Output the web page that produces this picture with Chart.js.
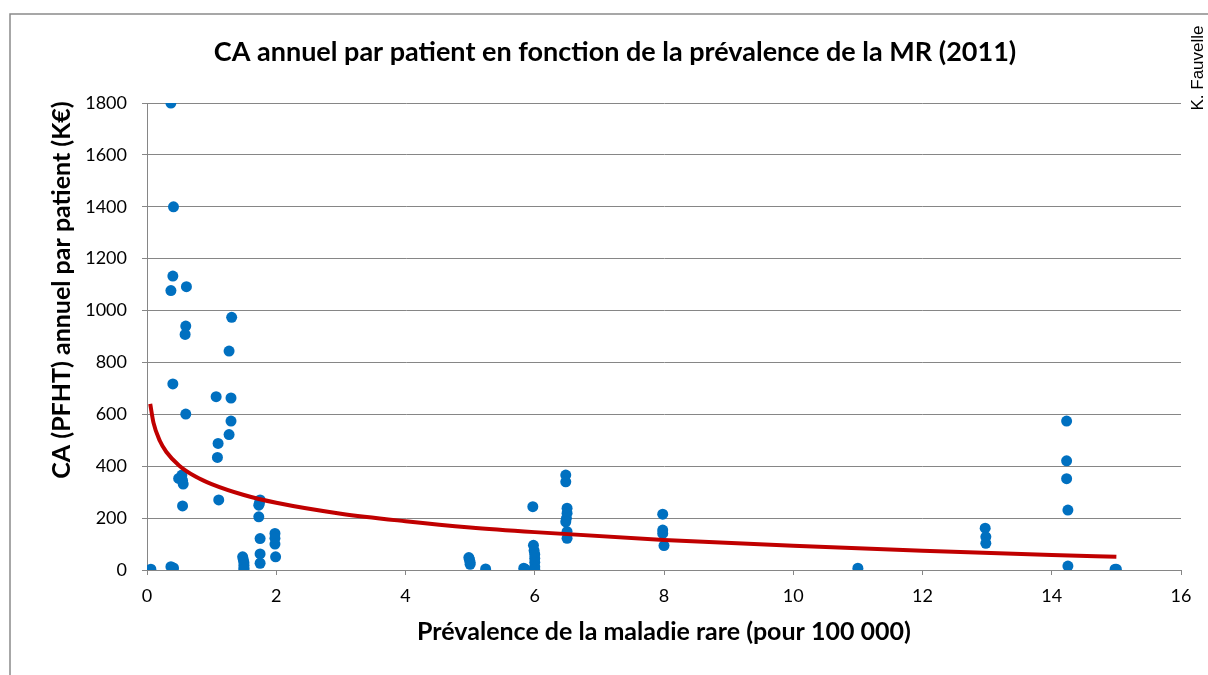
<!DOCTYPE html>
<html>
<head>
<meta charset="utf-8">
<script src="https://cdn.jsdelivr.net/npm/chart.js@4"></script>
<style>
  html, body { margin: 0; padding: 0; background: #fff; }
</style>
</head>
<body>
<canvas id="chart" width="1208" height="675"></canvas>
<script>
// Chart data
const titleText = "CA annuel par patient en fonction de la prévalence de la MR (2011)";
const xTitle = "Prévalence de la maladie rare (pour 100 000)";
const yTitle = "CA (PFHT) annuel par patient (K€)";
const credit = "K. Fauvelle";

// prevalence (per 100 000) of each rare disease
const prevalence = [
    0.06,
    0.37, 0.41, 0.40, 0.37, 0.40, 0.37, 0.41, 0.40,
    0.61, 0.60, 0.59, 0.60, 0.49, 0.54, 0.55, 0.56, 0.55,
    1.07, 1.10, 1.09, 1.11,
    1.31, 1.27, 1.30, 1.30, 1.27,
    1.48, 1.49, 1.50, 1.50, 1.50, 1.50,
    1.75, 1.74, 1.73, 1.73, 1.75, 1.75, 1.75,
    1.98, 1.98, 1.98, 1.99,
    4.98, 4.99, 5.00, 5.00,
    5.24,
    5.83, 5.85,
    5.97, 5.98, 5.99, 6.00, 6.00, 6.00, 6.00, 6.00,
    6.48, 6.48, 6.50, 6.50, 6.49, 6.48, 6.50, 6.50,
    7.98, 7.98, 7.98, 8.00,
    11.0,
    12.97, 12.98, 12.98,
    14.23, 14.23, 14.23, 14.25, 14.25,
    14.98, 15.0
];
// annual turnover per patient (K€)
const caPatient = [
    3,
    1800, 1400, 1133, 1077, 717, 13, 8, 3,
    1092, 940, 908, 601, 353, 366, 345, 331, 247,
    668, 488, 434, 270,
    974, 844, 663, 574, 522,
    51, 40, 28, 18, 8, 3,
    270, 258, 250, 205, 121, 62, 26,
    141, 122, 100, 51,
    48, 40, 30, 22,
    4,
    7, 3,
    244, 95, 75, 60, 45, 30, 13, 3,
    366, 340, 238, 219, 199, 186, 148, 122,
    215, 154, 141, 94,
    7,
    161, 128, 103,
    574, 421, 352, 231, 15,
    3, 3
];
// logarithmic trend line, read at a few prevalences
const trendX = [0.05, 0.1, 0.2, 0.3, 0.5, 0.75, 1, 1.5, 2, 3, 4, 5, 6, 8, 10, 12, 14, 15];
const trendY = [640, 568, 497, 455, 402, 360, 331, 289, 259, 217, 188, 164, 146, 116, 93, 74, 58, 51];

const xTicks = [0, 2, 4, 6, 8, 10, 12, 14, 16];
const yTicks = [0, 200, 400, 600, 800, 1000, 1200, 1400, 1600, 1800];

const gridColor = "#868686";
Chart.defaults.font.family = "Lato";
Chart.defaults.color = "#000";

// frame, title and side texts
const decorPlugin = {
    id: "decor",
    beforeDraw(chart) {
        let ctx = chart.ctx;
        ctx.save();
        ctx.strokeStyle = "#8a8a8a";
        ctx.lineWidth = 1.5;
        ctx.beginPath();
        ctx.moveTo(10, 675);
        ctx.lineTo(10, 14);
        ctx.lineTo(1208, 14);
        ctx.stroke();
        ctx.restore();
    },
    afterDraw(chart) {
        let ctx = chart.ctx;
        ctx.save();
        ctx.fillStyle = "#000";
        ctx.textAlign = "center";
        ctx.textBaseline = "middle";
        ctx.font = "bold 27px Lato";
        ctx.fillText(titleText, 615, 52);

        ctx.save();
        ctx.translate(62, 290);
        ctx.rotate(-Math.PI / 2);
        ctx.font = "bold 25px Lato";
        ctx.fillText(yTitle, 0, 0);
        ctx.restore();

        ctx.translate(1203, 68);
        ctx.rotate(-Math.PI / 2);
        ctx.textBaseline = "alphabetic";
        ctx.font = "17px 'Liberation Sans'";
        ctx.fillText(credit, 0, 0);
        ctx.restore();
    }
};

let ctx = document.getElementById("chart").getContext("2d");
new Chart(ctx, {
    type: "scatter",
    data: {
        datasets: [{
            type: "line",
            label: "Tendance",
            data: trendX.map((x, i) => ({ x: x, y: trendY[i] })),
            borderColor: "#C00000",
            borderWidth: 4,
            pointRadius: 0,
            cubicInterpolationMode: "monotone",
            fill: false
        }, {
            label: "CA par patient",
            data: prevalence.map((x, i) => ({ x: x, y: caPatient[i] })),
            backgroundColor: "#0070C0",
            borderWidth: 0,
            pointRadius: 5.5
        }]
    },
    options: {
        responsive: false,
        animation: false,
        layout: { padding: { top: 103, right: 27, left: 0, bottom: 0 } },
        plugins: {
            legend: { display: false },
            tooltip: { enabled: false }
        },
        scales: {
            x: {
                type: "linear",
                min: 0,
                max: 16,
                afterFit: s => { s.height = 105; },
                afterBuildTicks: s => { s.ticks = xTicks.map(v => ({ value: v })); },
                ticks: { font: { size: 18 }, padding: 10, callback: v => String(v) },
                grid: { drawOnChartArea: false, color: gridColor, tickLength: 5 },
                border: { color: gridColor, width: 1 },
                title: {
                    display: true,
                    text: xTitle,
                    font: { size: 25, weight: "bold" },
                    padding: { top: 0, bottom: 28 }
                }
            },
            y: {
                min: 0,
                max: 1800,
                afterFit: s => { s.width = 147; },
                afterBuildTicks: s => { s.ticks = yTicks.map(v => ({ value: v })); },
                ticks: { font: { size: 18 }, padding: 15, callback: v => String(v) },
                grid: { color: gridColor, tickLength: 5 },
                border: { color: gridColor, width: 1 }
            }
        }
    },
    plugins: [decorPlugin]
});
</script>
</body>
</html>
